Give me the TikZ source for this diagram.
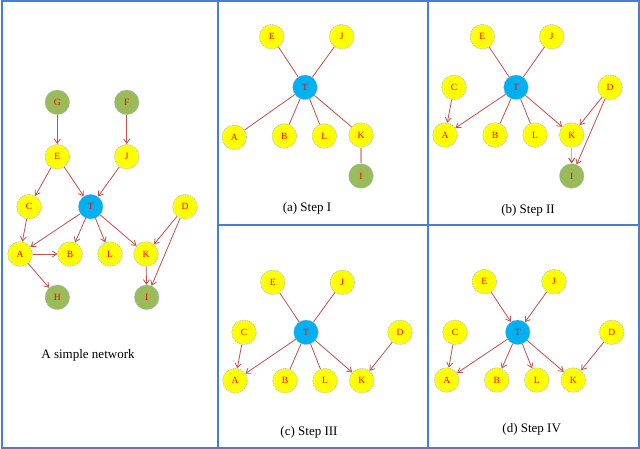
\documentclass[tikz,border=0pt]{standalone}
\usepackage{fontspec}
\setmainfont{Liberation Serif}
\usetikzlibrary{arrows.meta}
\definecolor{frm}{RGB}{68,126,214}
\definecolor{edg}{RGB}{192,80,77}
\definecolor{pnk}{RGB}{228,165,165}
\definecolor{yfill}{RGB}{255,255,0}
\definecolor{gfill}{RGB}{155,187,89}
\definecolor{bfill}{RGB}{0,176,240}
\definecolor{ndb}{RGB}{150,180,210}
\begin{document}
\begin{tikzpicture}[x=1pt,y=-1pt,
 nd/.style={circle,minimum size=24.6pt,inner sep=0pt,draw=ndb,dash pattern=on 1.5pt off 1pt,line width=0.45pt,font=\fontsize{9.5}{10}\selectfont,text=red},
 yel/.style={nd,fill=yfill},
 grn/.style={nd,fill=gfill},
 blu/.style={nd,fill=bfill},
 ln/.style={draw=edg,line width=0.8pt},
 ar/.style={ln,-{Straight Barb[length=4.5pt,width=6pt]}},
 lp/.style={draw=pnk,line width=1.1pt},
 lpa/.style={lp,-{Straight Barb[length=4.5pt,width=6pt,color=edg]}},
 captxt/.style={font=\fontsize{13}{15}\selectfont,text=black},
 frame/.style={draw=frm,line width=2pt}
]
\useasboundingbox (0,0) rectangle (640,449);
\fill[white] (0,0) rectangle (640,449);
% frames
\draw[frame] (1.5,1.5) rectangle (638.5,447.5);
\draw[frame] (217.5,1.5) -- (217.5,447.5);
\draw[frame] (428,1.5) -- (428,447.5);
\draw[frame] (217.5,225) -- (638.5,225);

% ---------- simple network ----------
\node[grn] (nG) at (57.3,102.3) {G};
\node[grn] (nF) at (126.7,102.3) {F};
\node[yel] (nE) at (57.3,156.7) {E};
\node[yel] (nJ) at (126.7,156.7) {J};
\node[yel] (nC) at (29,206.7) {C};
\node[blu] (nT) at (90.7,206.7) {T};
\node[yel] (nD) at (185,206.7) {D};
\node[yel] (nA) at (20,254) {A};
\node[yel] (nB) at (70,254) {B};
\node[yel] (nL) at (110,254) {L};
\node[yel] (nK) at (146,254) {K};
\node[grn] (nH) at (57.3,297.3) {H};
\node[grn] (nI) at (146.7,297.3) {I};
\node[captxt] (ncap) at (88,355) {A simple network};
\draw[ar] (nG) -- (nE);
\draw[ar] (nF) -- (nJ);
\draw[ar] (nE) -- (nC);
\draw[ar] (nE) -- (nT);
\draw[ar] (nJ) -- (nT);
\draw[ar] (nC) -- (nA);
\draw[ar] (nT) -- (nA);
\draw[ar] (nT) -- (nB);
\draw[ar] (nT) -- (nL);
\draw[ar] (nT) -- (nK);
\draw[ar] (nD) -- (nK);
\draw[ar] (nD) -- (nI);
\draw[ar] (nA) -- (nB);
\draw[ar] (nA) -- (nH);
\draw[ar] (nK) -- (nI);

% ---------- (a) Step I ----------
\node[yel] (aE) at (271.7,36.7) {E};
\node[yel] (aJ) at (341.7,36.7) {J};
\node[blu] (aT) at (305,87.3) {T};
\node[yel] (aA) at (234.3,137.3) {A};
\node[yel] (aB) at (284.3,136) {B};
\node[yel] (aL) at (324.3,136) {L};
\node[yel] (aK) at (361,135) {K};
\node[grn] (aI) at (361,176) {I};
\node[captxt] (acap) at (307,208.3) {(a) Step I};
\draw[ln] (aE) -- (aT);
\draw[ln] (aJ) -- (aT);
\draw[ln] (aT) -- (aA);
\draw[ln] (aT) -- (aB);
\draw[ln] (aT) -- (aL);
\draw[ln] (aT) -- (aK);
\draw[lp] (aK) -- (aI);

% ---------- (b) Step II ----------
\node[yel] (bE) at (482.3,36.7) {E};
\node[yel] (bJ) at (551.7,36.7) {J};
\node[yel] (bC) at (454,87.3) {C};
\node[blu] (bT) at (516,87.3) {T};
\node[yel] (bD) at (610,87.3) {D};
\node[yel] (bA) at (445,135) {A};
\node[yel] (bB) at (495,135) {B};
\node[yel] (bL) at (535,135) {L};
\node[yel] (bK) at (571.7,135) {K};
\node[grn] (bI) at (571.7,176) {I};
\node[captxt] (bcap) at (528,210) {(b) Step II};
\draw[ln] (bE) -- (bT);
\draw[ln] (bJ) -- (bT);
\draw[ar] (bC) -- (bA);
\draw[ar] (bT) -- (bA);
\draw[ln] (bT) -- (bB);
\draw[ln] (bT) -- (bL);
\draw[ar] (bT) -- (bK);
\draw[ar] (bD) -- (bK);
\draw[ar] (bD) -- (bI);
\draw[lpa] (bK) -- (bI);

% ---------- (c) Step III ----------
\node[yel] (cE) at (272.7,282.3) {E};
\node[yel] (cJ) at (342.3,282.3) {J};
\node[yel] (cC) at (244,332.3) {C};
\node[blu] (cT) at (306,332.3) {T};
\node[yel] (cD) at (400,332.3) {D};
\node[yel] (cA) at (235,380.7) {A};
\node[yel] (cB) at (285,380.7) {B};
\node[yel] (cL) at (325,380.7) {L};
\node[yel] (cK) at (361.7,380.7) {K};
\node[captxt] (ccap) at (309,432.3) {(c) Step III};
\draw[ln] (cE) -- (cT);
\draw[ln] (cJ) -- (cT);
\draw[ar] (cC) -- (cA);
\draw[ar] (cT) -- (cA);
\draw[ln] (cT) -- (cB);
\draw[ln] (cT) -- (cL);
\draw[ar] (cT) -- (cK);
\draw[ar] (cD) -- (cK);

% ---------- (d) Step IV ----------
\node[yel] (dE) at (484.3,281.7) {E};
\node[yel] (dJ) at (554,281.7) {J};
\node[yel] (dC) at (455,332.3) {C};
\node[blu] (dT) at (517.7,332.3) {T};
\node[yel] (dD) at (611.7,332.3) {D};
\node[yel] (dA) at (446.7,380) {A};
\node[yel] (dB) at (496.7,380) {B};
\node[yel] (dL) at (536.7,380) {L};
\node[yel] (dK) at (573.3,380) {K};
\node[captxt] (dcap) at (531.7,429.3) {(d) Step IV};
\draw[ar] (dE) -- (dT);
\draw[ar] (dJ) -- (dT);
\draw[ar] (dC) -- (dA);
\draw[ar] (dT) -- (dA);
\draw[ar] (dT) -- (dB);
\draw[ar] (dT) -- (dL);
\draw[ar] (dT) -- (dK);
\draw[ar] (dD) -- (dK);
\end{tikzpicture}
\end{document}
